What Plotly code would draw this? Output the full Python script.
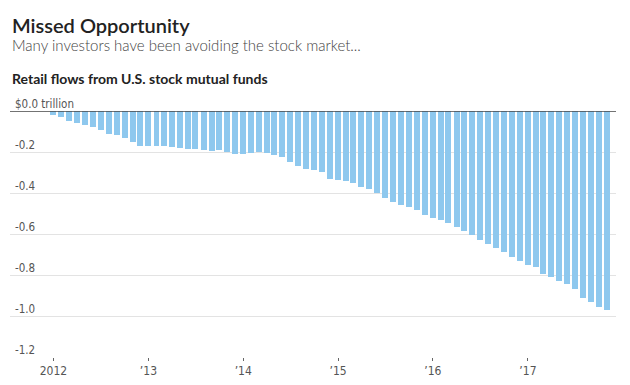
import pandas as pd
import plotly.graph_objects as go

# Monthly retail flows (trillions of dollars), Jan 2012 - Nov 2017
months = pd.date_range("2012-01-01", periods=71, freq="MS")
flows = [
    -0.018, -0.027, -0.047, -0.058, -0.067, -0.080, -0.091, -0.110, -0.118, -0.133, -0.153, -0.171,
    -0.171, -0.171, -0.171, -0.176, -0.180, -0.185, -0.185, -0.190, -0.195, -0.190, -0.200, -0.210,
    -0.210, -0.203, -0.200, -0.205, -0.213, -0.224, -0.247, -0.266, -0.281, -0.286, -0.299, -0.330,
    -0.335, -0.343, -0.353, -0.371, -0.380, -0.400, -0.424, -0.444, -0.457, -0.467, -0.481, -0.505,
    -0.523, -0.533, -0.548, -0.567, -0.585, -0.605, -0.628, -0.648, -0.666, -0.686, -0.710, -0.733,
    -0.750, -0.761, -0.795, -0.810, -0.829, -0.842, -0.866, -0.914, -0.932, -0.958, -0.972,
]

x_tickvals = ["2012-01-01", "2013-01-01", "2014-01-01", "2015-01-01", "2016-01-01", "2017-01-01"]
x_ticktext = ["2012", "\u201913", "\u201914", "\u201915", "\u201916", "\u201917"]
y_tickvals = [0, -0.2, -0.4, -0.6, -0.8, -1.0, -1.2]
y_ticktext = ["$0.0 trillion", "-0.2", "-0.4", "-0.6", "-0.8", "-1.0", "-1.2"]

title = "Missed Opportunity"
subtitle = "Many investors have been avoiding the stock market..."
chart_label = "Retail flows from U.S. stock mutual funds"

TICK_FONT = "Liberation Sans Narrow, DejaVu Sans Condensed, Roboto, sans-serif"

fig = go.Figure()
fig.add_trace(go.Bar(
    x=months, y=flows,
    width=23 * 86400000,
    marker=dict(color="#8ec8ee", line=dict(width=0)),
    hoverinfo="skip",
))

annotations = [
    dict(text=title, xref="paper", yref="paper", x=0.0, y=1.351,
         xanchor="left", yanchor="middle", showarrow=False, xshift=0,
         font=dict(family="Lato, sans-serif", size=20, color="#222", weight=600)),
    dict(text=subtitle, xref="paper", yref="paper", x=0.0, y=1.268,
         xanchor="left", yanchor="middle", showarrow=False, xshift=0,
         font=dict(family="Lato, sans-serif", size=15, color="#444", weight=300)),
    dict(text=chart_label, xref="paper", yref="paper", x=0.0, y=1.133,
         xanchor="left", yanchor="middle", showarrow=False, xshift=0,
         font=dict(family="Lato, sans-serif", size=14, color="#222", weight=700)),
]
for v, t in zip(y_tickvals, y_ticktext):
    annotations.append(dict(
        text=t, xref="paper", yref="y", x=0.0, y=v,
        xanchor="left", yanchor="bottom", showarrow=False, xshift=3, yshift=-2,
        font=dict(family=TICK_FONT, size=11.5, color="#555"),
    ))

# page body adds an 8px offset; margins compensate so the plot lands at the reference position
fig.update_layout(
    width=622, height=377,
    margin=dict(l=2, r=14, t=103, b=28),
    plot_bgcolor="white", paper_bgcolor="white",
    showlegend=False,
    bargap=0,
    xaxis=dict(
        type="date", automargin=False,
        range=["2011-07-18", "2017-12-06"],
        tickvals=x_tickvals, ticktext=x_ticktext,
        showgrid=False, zeroline=False, showline=False,
        ticks="outside", ticklen=3, tickwidth=1, tickcolor="#666",
        tickfont=dict(family=TICK_FONT, size=12, color="#555"),
    ),
    yaxis=dict(
        range=[-1.2, 0], automargin=False,
        tickvals=y_tickvals, showticklabels=False,
        showgrid=True, gridcolor="#e3e3e3", gridwidth=1,
        zeroline=False, showline=False,
    ),
    shapes=[dict(type="line", xref="paper", x0=0, x1=1, yref="y", y0=0, y1=0,
                 line=dict(color="#444", width=1.5))],
    annotations=annotations,
)

fig.write_html("out.html")
